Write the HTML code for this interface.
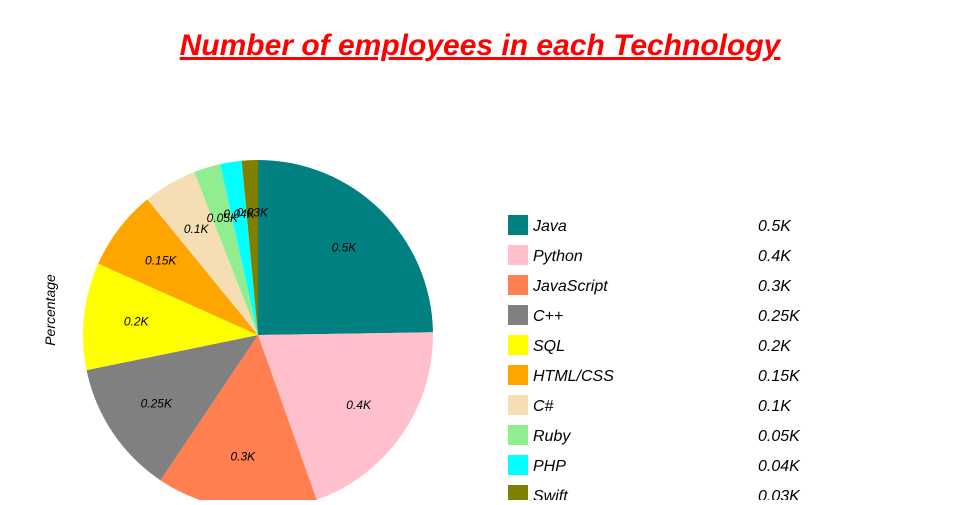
<!DOCTYPE html>
<html><head><meta charset="utf-8"><style>
body{margin:0;background:#fff;width:960px;height:500px;overflow:hidden;font-family:"Liberation Sans",sans-serif}
</style></head><body>
<svg width="960" height="500">
<text x="480" y="55" text-anchor="middle" font-size="30" font-weight="bold" font-style="italic" fill="#ff0000" text-decoration="underline">Number of employees in each Technology</text>
<text transform="translate(55,310) rotate(-90)" text-anchor="middle" font-size="14" font-style="italic" fill="#000">Percentage</text>
<g id="slices"></g><g id="labels"></g><g id="legend"></g>
</svg>
<script>
const categories=["Java","Python","JavaScript","C++","SQL","HTML/CSS","C#","Ruby","PHP","Swift"];
const values=[500,400,300,250,200,150,100,50,40,30];
const valueLabels=["0.5K","0.4K","0.3K","0.25K","0.2K","0.15K","0.1K","0.05K","0.04K","0.03K"];
const colors=["#008080","#ffc0cb","#ff7f50","#808080","#ffff00","#ffa500","#f5deb3","#90ee90","#00ffff","#808000"];
const NS="http://www.w3.org/2000/svg";
const cx=258,cy=335,r=175;
const total=values.reduce((a,b)=>a+b,0);
function pt(a,rr){return [cx+rr*Math.sin(a),cy-rr*Math.cos(a)];}
let a0=0;
const sg=document.getElementById('slices'),lg=document.getElementById('labels'),leg=document.getElementById('legend');
values.forEach((v,i)=>{
  const a1=a0+v/total*2*Math.PI;
  const p0=pt(a0,r),p1=pt(a1,r);
  const p=document.createElementNS(NS,'path');
  p.setAttribute('d',`M${cx},${cy}L${p0[0]},${p0[1]}A${r},${r} 0 ${a1-a0>Math.PI?1:0} 1 ${p1[0]},${p1[1]}Z`);
  p.setAttribute('fill',colors[i]);
  
  
  sg.appendChild(p);
  const m=pt((a0+a1)/2,r*0.7);
  const t=document.createElementNS(NS,'text');
  t.setAttribute('x',m[0]);t.setAttribute('y',m[1]+4);
  t.setAttribute('text-anchor','middle');t.setAttribute('font-size','12');t.setAttribute('font-style','italic');
  t.textContent=valueLabels[i];
  
  
  lg.appendChild(t);
  a0=a1;
  const y=215+i*30;
  const g=document.createElementNS(NS,'g');
  
  
  const s=document.createElementNS(NS,'rect');
  s.setAttribute('x',508);s.setAttribute('y',y);s.setAttribute('width',20);s.setAttribute('height',20);s.setAttribute('fill',colors[i]);
  
  
  g.appendChild(s);
  const l=document.createElementNS(NS,'text');
  l.setAttribute('x',533);l.setAttribute('y',y+16);l.setAttribute('font-size','16');l.setAttribute('font-style','italic');
  l.textContent=categories[i];
  
  
  g.appendChild(l);
  const vl=document.createElementNS(NS,'text');
  vl.setAttribute('x',758);vl.setAttribute('y',y+16);vl.setAttribute('font-size','16');vl.setAttribute('font-style','italic');
  vl.textContent=valueLabels[i];
  
  
  g.appendChild(vl);
  leg.appendChild(g);
});
</script>
</body></html>
